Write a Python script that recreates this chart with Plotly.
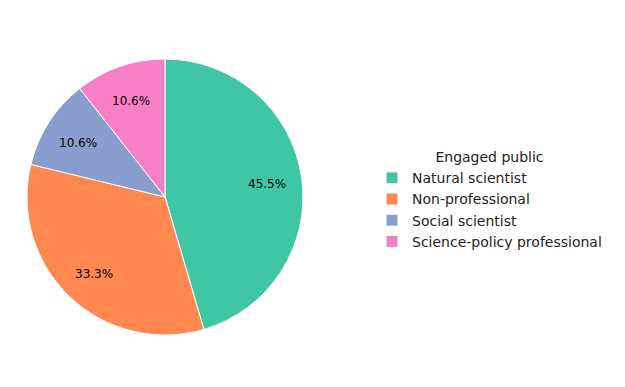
import math
import plotly.graph_objects as go

categories = ["Natural scientist", "Non-professional", "Social scientist", "Science-policy professional"]
values = [30, 22, 7, 7]
colors = ["#3fc7a5", "#ff8851", "#8a9dcf", "#f67fc6"]
legend_title = "Engaged public"

W, H = 625, 387
OFF = 8  # page body margin
cx, cy, r = 165 - OFF, 197 - OFF, 138
PCT_DIST = 0.75
dom_x = [(cx - r) / W, (cx + r) / W]
dom_y = [(H - cy - r) / H, (H - cy + r) / H]

fig = go.Figure(go.Pie(
    labels=categories, values=values, sort=False, direction="clockwise", rotation=0,
    marker=dict(colors=colors, line=dict(color="white", width=1)),
    textinfo="none", hoverinfo="label+percent",
    domain=dict(x=dom_x, y=dom_y),
))

# percentage labels placed like matplotlib autopct
total = sum(values)
cum = 0
for v in values:
    mid = 90 - 360 * (cum + v / 2) / total
    cum += v
    px = cx + PCT_DIST * r * math.cos(math.radians(mid))
    py = cy - PCT_DIST * r * math.sin(math.radians(mid))
    fig.add_annotation(x=px / W, y=1 - py / H, xref="paper", yref="paper",
                       xanchor="center", yanchor="middle", yshift=-2,
                       text=f"{100 * v / total:.1f}%", showarrow=False,
                       font=dict(family="DejaVu Sans", size=12, color="black"))

fig.update_layout(
    width=W, height=H, margin=dict(l=0, r=0, t=0, b=0),
    paper_bgcolor="white", plot_bgcolor="white",
    font=dict(family="DejaVu Sans", size=14, color="#222"),
    legend=dict(
        title=dict(text=legend_title, side="top center", font=dict(size=14)),
        x=(372 - OFF) / W, xanchor="left", y=1 - (144 - OFF) / H, yanchor="top",
        font=dict(size=14), tracegroupgap=0, itemwidth=30,
    ),
)
fig.write_html("out.html")
